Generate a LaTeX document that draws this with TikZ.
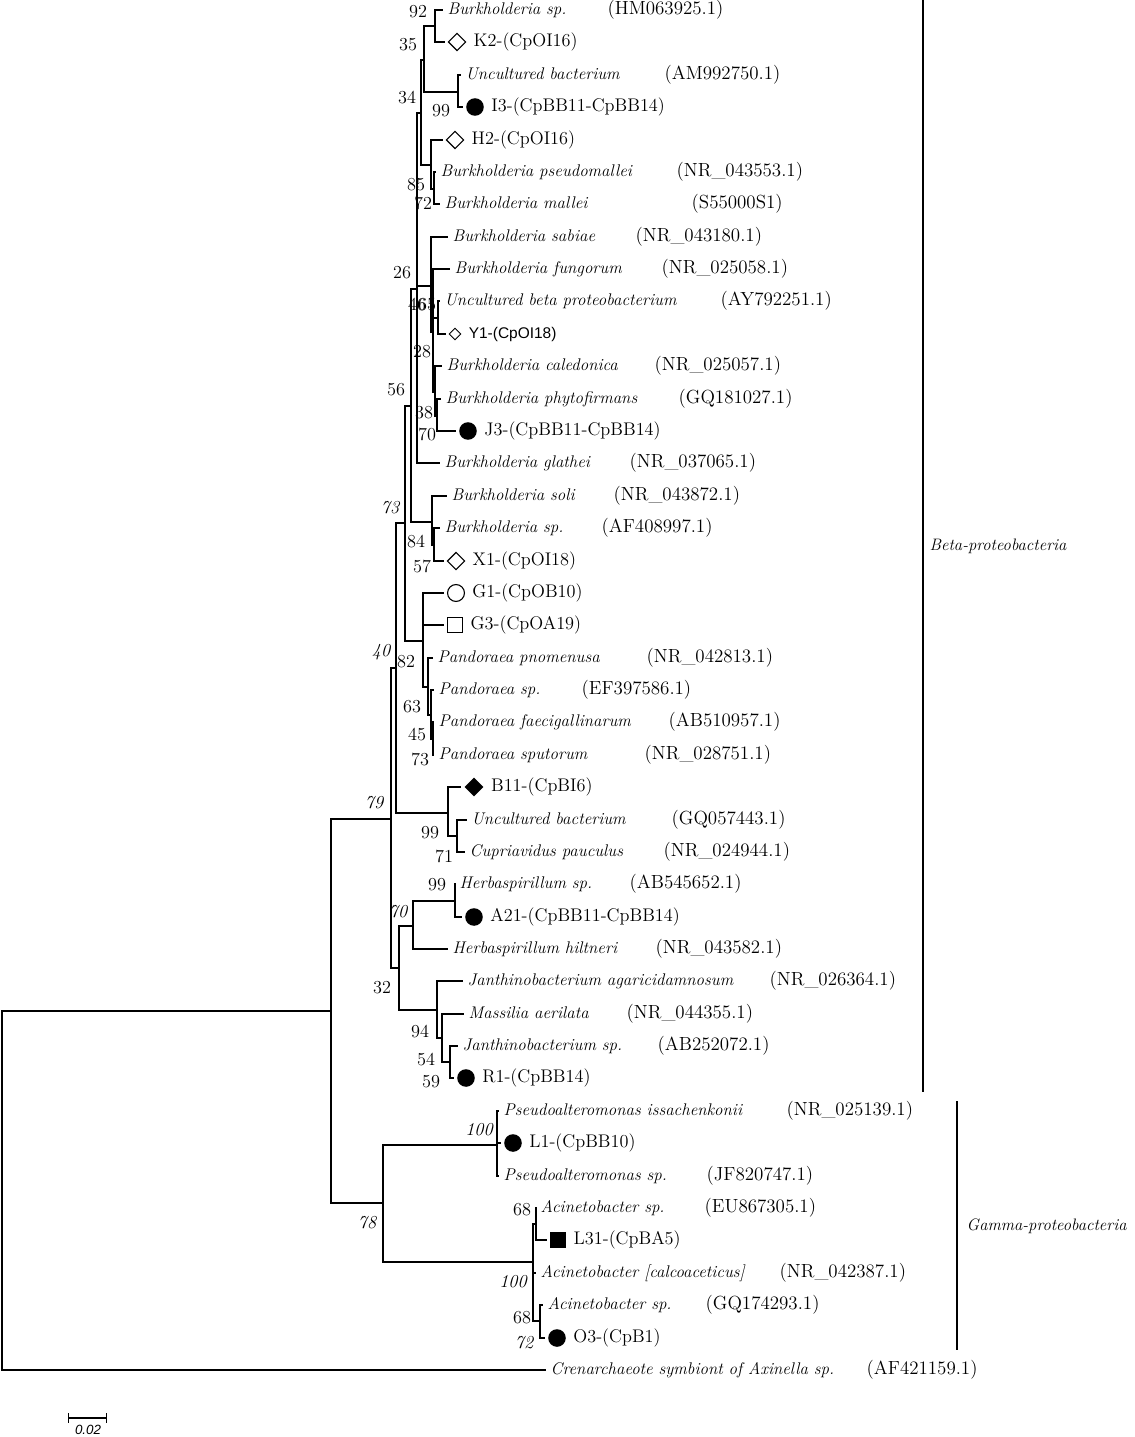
\documentclass[tikz,border=0pt]{standalone}
\usepackage{fontspec}
\newfontfamily\arialfont{Liberation Sans}
\usetikzlibrary{positioning,shapes.geometric,arrows.meta}

\begin{document}
\begin{tikzpicture}[
    x=0.025cm, y=-0.025cm,
    branch/.style={line width=1pt, line cap=rect},
    leafbranch/.style={branch, shorten >=2.5pt},
    taxon/.style={anchor=west, inner sep=1pt, text height=8pt, text depth=2.2pt,
        font=\fontsize{12}{14}\selectfont\itshape},
    isolate/.style={anchor=west, inner sep=1pt, text height=9pt, text depth=2.6pt,
        font=\fontsize{13}{15}\selectfont},
    accno/.style={anchor=west, inner sep=1pt, text height=9pt, text depth=2.6pt,
        font=\fontsize{13.5}{16}\selectfont},
    boot/.style={inner sep=0pt, font=\fontsize{13}{15}\selectfont},
    bootit/.style={boot, font=\fontsize{13}{15}\selectfont\itshape},
    opendiam/.style={diamond, draw, line width=0.8pt, inner sep=0pt, minimum size=12.5pt},
    smalldiam/.style={diamond, draw, line width=0.7pt, inner sep=0pt, minimum size=8.5pt},
    filldiam/.style={diamond, fill, inner sep=0pt, minimum size=13.5pt},
    dot/.style={circle, fill, inner sep=0pt, minimum size=12.5pt},
    opencirc/.style={circle, draw, line width=0.8pt, inner sep=0pt, minimum size=12pt},
    opensq/.style={rectangle, draw, line width=0.8pt, inner sep=0pt, minimum size=11pt},
    fillsq/.style={rectangle, fill, inner sep=0pt, minimum size=11.5pt},
    groupbar/.style={line width=2.1pt},
    grouplbl/.style={anchor=west, inner sep=1pt, font=\fontsize{11.8}{14}\selectfont\itshape}
]
    \useasboundingbox (0,0) rectangle (1134,1437);

    % internal nodes
    \coordinate (root) at (2,1191);
    \coordinate (nIn) at (331,1011);
    \coordinate (nBeta) at (391,819);
    \coordinate (n40) at (396,668);
    \coordinate (n73) at (405,523);
    \coordinate (n56) at (411,406);
    \coordinate (n26) at (417,289);
    \coordinate (n34) at (421,113);
    \coordinate (n35) at (424,60);
    \coordinate (n92) at (435,26);
    \coordinate (n99a) at (458,92);
    \coordinate (n85) at (431,165);
    \coordinate (n72) at (434,189);
    \coordinate (nS) at (431,286);
    \coordinate (nX) at (433,332);
    \coordinate (nU) at (438,318);
    \coordinate (nZ) at (435,392);
    \coordinate (nW) at (437,416);
    \coordinate (n84) at (432,522);
    \coordinate (nX1) at (434,545);
    \coordinate (n82) at (423,641);
    \coordinate (nP1) at (428,687);
    \coordinate (nP2) at (431,715);
    \coordinate (nP3) at (433,739);
    \coordinate (n99b) at (448,813);
    \coordinate (nCu) at (457,836);
    \coordinate (n32) at (399,968);
    \coordinate (n99c) at (413,926);
    \coordinate (nHe) at (455,901);
    \coordinate (n94) at (437,1010);
    \coordinate (n54) at (442,1038);
    \coordinate (n59) at (450,1062);
    \coordinate (nGam) at (383,1203);
    \coordinate (nPs) at (497,1145);
    \coordinate (nAc) at (533,1262);
    \coordinate (nAc1) at (536,1224);
    \coordinate (nAc2) at (540,1321);

    % leaves
    \node[taxon] (bsp1) at (446,10) {Burkholderia sp.};
    \node[opendiam] (k2m) at (457,42) {};
    \node[isolate, right=4pt of k2m] (k2) {K2-(CpOI16)};
    \node[taxon] (unc1) at (464,75) {Uncultured bacterium};
    \node[dot] (i3m) at (475,107) {};
    \node[isolate, right=4pt of i3m] (i3) {I3-(CpBB11-CpBB14)};
    \node[opendiam] (h2m) at (455,140) {};
    \node[isolate, right=4pt of h2m] (h2) {H2-(CpOI16)};
    \node[taxon] (bpm) at (439,172) {Burkholderia pseudomallei};
    \node[taxon] (bma) at (443,204) {Burkholderia mallei};
    \node[taxon] (sab) at (451,237) {Burkholderia sabiae};
    \node[taxon] (fun) at (453,269) {Burkholderia fungorum};
    \node[taxon] (ubeta) at (443,301) {Uncultured beta proteobacterium};
    \node[smalldiam] (y1m) at (455,334) {};
    \node[isolate, right=4pt of y1m, font=\arialfont\fontsize{11}{13}\selectfont] (y1) {Y1-(CpOI18)};
    \node[taxon] (cal) at (445,366) {Burkholderia caledonica};
    \node[taxon] (phy) at (444,399) {Burkholderia phytofirmans};
    \node[dot] (j3m) at (468,431) {};
    \node[isolate, right=4pt of j3m] (j3) {J3-(CpBB11-CpBB14)};
    \node[taxon] (gla) at (443,463) {Burkholderia glathei};
    \node[taxon] (soli) at (450,496) {Burkholderia soli};
    \node[taxon] (bspaf) at (443,528) {Burkholderia sp.};
    \node[opendiam] (x1m) at (456,561) {};
    \node[isolate, right=4pt of x1m] (x1) {X1-(CpOI18)};
    \node[opencirc] (g1m) at (456,593) {};
    \node[isolate, right=4pt of g1m] (g1) {G1-(CpOB10)};
    \node[opensq] (g3m) at (455,625) {};
    \node[isolate, right=4pt of g3m] (g3) {G3-(CpOA19)};
    \node[taxon] (ppn) at (436,658) {Pandoraea pnomenusa};
    \node[taxon] (psp2) at (437,690) {Pandoraea sp.};
    \node[taxon] (pfa) at (437,722) {Pandoraea faecigallinarum};
    \node[taxon] (psu) at (437,755) {Pandoraea sputorum};
    \node[filldiam] (b11m) at (474,787) {};
    \node[isolate, right=4pt of b11m] (b11) {B11-(CpBI6)};
    \node[taxon] (ugq) at (470,820) {Uncultured bacterium};
    \node[taxon] (cup) at (468,852) {Cupriavidus pauculus};
    \node[taxon] (hsp) at (458,884) {Herbaspirillum sp.};
    \node[dot] (a21m) at (474,917) {};
    \node[isolate, right=4pt of a21m] (a21) {A21-(CpBB11-CpBB14)};
    \node[taxon] (hhi) at (451,949) {Herbaspirillum hiltneri};
    \node[taxon] (jag) at (466,981) {Janthinobacterium agaricidamnosum};
    \node[taxon] (mas) at (467,1014) {Massilia aerilata};
    \node[taxon] (jsp) at (461,1046) {Janthinobacterium sp.};
    \node[dot] (r1m) at (466,1078) {};
    \node[isolate, right=4pt of r1m] (r1) {R1-(CpBB14)};
    \node[taxon] (pis) at (502,1111) {Pseudoalteromonas issachenkonii};
    \node[dot] (l1m) at (513,1143) {};
    \node[isolate, right=4pt of l1m] (l1) {L1-(CpBB10)};
    \node[taxon] (psp) at (502,1176) {Pseudoalteromonas sp.};
    \node[taxon] (aceu) at (539,1208) {Acinetobacter sp.};
    \node[fillsq] (l31m) at (558,1240) {};
    \node[isolate, right=4pt of l31m] (l31) {L31-(CpBA5)};
    \node[taxon] (acc) at (539,1273) {Acinetobacter [calcoaceticus]};
    \node[taxon] (acgq) at (546,1305) {Acinetobacter sp.};
    \node[dot] (o3m) at (557,1338) {};
    \node[isolate, right=4pt of o3m] (o3) {O3-(CpB1)};
    \node[taxon] (cren) at (549,1370) {Crenarchaeote symbiont of Axinella sp.};

    % accession numbers
    \node[accno] (a-bsp1) at (606,10) {(HM063925.1)};
    \node[accno] (a-unc1) at (663,75) {(AM992750.1)};
    \node[accno] (a-bpm) at (675,172) {(NR\_043553.1)};
    \node[accno] (a-bma) at (690,204) {(S55000S1)};
    \node[accno] (a-sab) at (634,237) {(NR\_043180.1)};
    \node[accno] (a-fun) at (660,269) {(NR\_025058.1)};
    \node[accno] (a-ubeta) at (719,301) {(AY792251.1)};
    \node[accno] (a-cal) at (653,366) {(NR\_025057.1)};
    \node[accno] (a-phy) at (677,399) {(GQ181027.1)};
    \node[accno] (a-gla) at (628,463) {(NR\_037065.1)};
    \node[accno] (a-soli) at (612,496) {(NR\_043872.1)};
    \node[accno] (a-bspaf) at (600,528) {(AF408997.1)};
    \node[accno] (a-ppn) at (645,658) {(NR\_042813.1)};
    \node[accno] (a-psp2) at (580,690) {(EF397586.1)};
    \node[accno] (a-pfa) at (667,722) {(AB510957.1)};
    \node[accno] (a-psu) at (643,755) {(NR\_028751.1)};
    \node[accno] (a-ugq) at (670,820) {(GQ057443.1)};
    \node[accno] (a-cup) at (662,852) {(NR\_024944.1)};
    \node[accno] (a-hsp) at (628,884) {(AB545652.1)};
    \node[accno] (a-hhi) at (654,949) {(NR\_043582.1)};
    \node[accno] (a-jag) at (768,981) {(NR\_026364.1)};
    \node[accno] (a-mas) at (625,1014) {(NR\_044355.1)};
    \node[accno] (a-jsp) at (656,1046) {(AB252072.1)};
    \node[accno] (a-pis) at (785,1111) {(NR\_025139.1)};
    \node[accno] (a-psp) at (705,1176) {(JF820747.1)};
    \node[accno] (a-aceu) at (703,1208) {(EU867305.1)};
    \node[accno] (a-acc) at (778,1273) {(NR\_042387.1)};
    \node[accno] (a-acgq) at (704,1305) {(GQ174293.1)};
    \node[accno] (a-cren) at (865,1370) {(AF421159.1)};

    % branches
    \draw[branch] (root) |- (nIn);
    \draw[leafbranch] (root) |- (cren.west);
    \draw[branch] (nIn) |- (nBeta);
    \draw[branch] (nIn) |- (nGam);
    \draw[branch] (nBeta) |- (n40);
    \draw[branch] (nBeta) |- (n32);
    \draw[branch] (n40) |- (n73);
    \draw[branch] (n40) |- (n99b);
    \draw[branch] (n73) |- (n56);
    \draw[branch] (n73) |- (n82);
    \draw[branch] (n56) |- (n26);
    \draw[branch] (n56) |- (n84);
    \draw[branch] (n26) |- (n34);
    \draw[branch] (n26) |- (nS);
    \draw[leafbranch] (n26) |- (gla.west);
    \draw[branch] (n34) |- (n35);
    \draw[branch] (n34) |- (n85);
    \draw[branch] (n35) |- (n92);
    \draw[branch] (n35) |- (n99a);
    \draw[leafbranch] (n92) |- (bsp1.west);
    \draw[leafbranch] (n92) |- (k2m.west);
    \draw[leafbranch] (n99a) |- (unc1.west);
    \draw[leafbranch] (n99a) |- (i3m.west);
    \draw[leafbranch] (n85) |- (h2m.west);
    \draw[branch] (n85) |- (n72);
    \draw[leafbranch] (n72) |- (bpm.west);
    \draw[leafbranch] (n72) |- (bma.west);
    \draw[leafbranch] (nS) |- (sab.west);
    \draw[branch] (nS) |- (nX);
    \draw[leafbranch] (nX) |- (fun.west);
    \draw[branch] (nX) |- (nU);
    \draw[branch] (nX) |- (nZ);
    \draw[leafbranch] (nU) |- (ubeta.west);
    \draw[leafbranch] (nU) |- (y1m.west);
    \draw[leafbranch] (nZ) |- (cal.west);
    \draw[branch] (nZ) |- (nW);
    \draw[leafbranch] (nW) |- (phy.west);
    \draw[leafbranch] (nW) |- (j3m.west);
    \draw[leafbranch] (n84) |- (soli.west);
    \draw[branch] (n84) |- (nX1);
    \draw[leafbranch] (nX1) |- (bspaf.west);
    \draw[leafbranch] (nX1) |- (x1m.west);
    \draw[leafbranch] (n82) |- (g1m.west);
    \draw[leafbranch] (n82) |- (g3m.west);
    \draw[branch] (n82) |- (nP1);
    \draw[leafbranch] (nP1) |- (ppn.west);
    \draw[branch] (nP1) |- (nP2);
    \draw[leafbranch] (nP2) |- (psp2.west);
    \draw[branch] (nP2) |- (nP3);
    \draw[leafbranch] (nP3) |- (pfa.west);
    \draw[leafbranch] (nP3) |- (psu.west);
    \draw[leafbranch] (n99b) |- (b11m.west);
    \draw[branch] (n99b) |- (nCu);
    \draw[leafbranch] (nCu) |- (ugq.west);
    \draw[leafbranch] (nCu) |- (cup.west);
    \draw[branch] (n32) |- (n99c);
    \draw[branch] (n32) |- (n94);
    \draw[branch] (n99c) |- (nHe);
    \draw[leafbranch] (n99c) |- (hhi.west);
    \draw[leafbranch] (nHe) |- (hsp.west);
    \draw[leafbranch] (nHe) |- (a21m.west);
    \draw[leafbranch] (n94) |- (jag.west);
    \draw[branch] (n94) |- (n54);
    \draw[leafbranch] (n54) |- (mas.west);
    \draw[branch] (n54) |- (n59);
    \draw[leafbranch] (n59) |- (jsp.west);
    \draw[leafbranch] (n59) |- (r1m.west);
    \draw[branch] (nGam) |- (nPs);
    \draw[branch] (nGam) |- (nAc);
    \draw[leafbranch] (nPs) |- (pis.west);
    \draw[leafbranch] (nPs) |- (l1m.west);
    \draw[leafbranch] (nPs) |- (psp.west);
    \draw[branch] (nAc) |- (nAc1);
    \draw[leafbranch] (nAc) |- (acc.west);
    \draw[branch] (nAc) |- (nAc2);
    \draw[leafbranch] (nAc1) |- (aceu.west);
    \draw[leafbranch] (nAc1) |- (l31m.west);
    \draw[leafbranch] (nAc2) |- (acgq.west);
    \draw[leafbranch] (nAc2) |- (o3m.west);

    % bootstrap values
    \node[boot] (bs92) at (418,12) {92};
    \node[boot] (bs35) at (408,45) {35};
    \node[boot] (bs34) at (407,98) {34};
    \node[boot] (bs99a) at (441,111) {99};
    \node[boot] (bs85) at (416,185) {85};
    \node[boot] (bs72a) at (423,204) {72};
    \node[boot] (bs26) at (402,273) {26};
    \node[boot] (bs46) at (417,305) {46};
    \node[boot] (bs65) at (427,305) {65};
    \node[boot] (bs28) at (422,352) {28};
    \node[boot] (bs56) at (396,390) {56};
    \node[boot] (bs38) at (424,413) {38};
    \node[boot] (bs70a) at (427,435) {70};
    \node[bootit] (bs73a) at (390,508) {73};
    \node[boot] (bs84) at (416,542) {84};
    \node[boot] (bs57) at (422,567) {57};
    \node[bootit] (bs40) at (381,652) {40};
    \node[boot] (bs82) at (406,662) {82};
    \node[boot] (bs63) at (412,707) {63};
    \node[boot] (bs45) at (417,735) {45};
    \node[boot] (bs73b) at (420,760) {73};
    \node[bootit] (bs79) at (374,803) {79};
    \node[boot] (bs99b) at (430,833) {99};
    \node[boot] (bs71) at (444,857) {71};
    \node[boot] (bs99c) at (437,885) {99};
    \node[bootit] (bs70b) at (398,912) {70};
    \node[boot] (bs32) at (382,988) {32};
    \node[boot] (bs94) at (420,1032) {94};
    \node[boot] (bs54) at (426,1060) {54};
    \node[boot] (bs59) at (431,1082) {59};
    \node[bootit] (bs100a) at (479,1130) {100};
    \node[bootit] (bs78) at (367,1223) {78};
    \node[boot] (bs68a) at (522,1210) {68};
    \node[bootit] (bs100b) at (513,1282) {100};
    \node[boot] (bs68b) at (522,1318) {68};
    \node[bootit] (bs72b) at (524,1343) {72};

    % groups
    \coordinate (betatop) at (923,0);
    \coordinate (betabot) at (923,1092);
    \coordinate (gamtop) at (957,1101);
    \coordinate (gambot) at (957,1350);
    \draw[groupbar] (betatop) -- (betabot);
    \draw[groupbar] (gamtop) -- (gambot);
    \node[grouplbl] (beta) at (928,546) {Beta-proteobacteria};
    \node[grouplbl] (gamma) at (965,1226) {Gamma-proteobacteria};

    % scale bar
    \coordinate (sbl) at (68,1418);
    \coordinate (sbr) at (107,1418);
    \draw[line width=0.8pt, {Bar[width=7pt]}-{Bar[width=7pt]}] (sbl) -- (sbr);
    \node[inner sep=0pt, font=\arialfont\itshape\fontsize{9.5}{11}\selectfont] (sblbl) at (88,1430) {0.02};
\end{tikzpicture}
\end{document}
